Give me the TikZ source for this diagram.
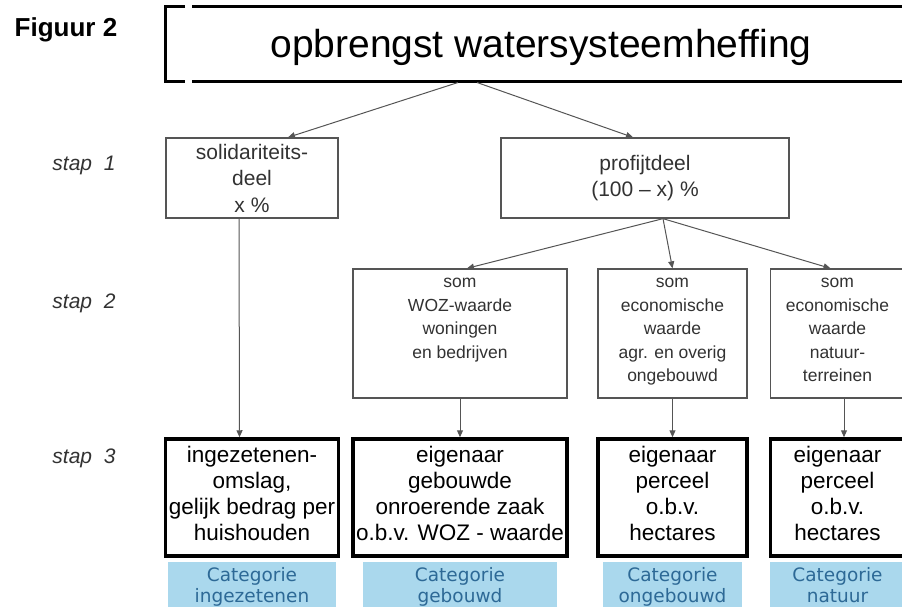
\documentclass[tikz,border=0pt]{standalone}
\usepackage{fontspec}
\setmainfont{Liberation Sans}
\newfontfamily\catfont{DejaVu Sans}
\usetikzlibrary{arrows.meta}

\definecolor{catblue}{RGB}{170,216,237}
\definecolor{cattext}{RGB}{45,105,150}
\definecolor{linegray}{RGB}{85,85,85}
\definecolor{textgray}{RGB}{50,50,50}

\begin{document}
\begin{tikzpicture}[x=1pt,y=-1pt,->,>={Triangle[length=7pt,width=6pt]},
                    line width=1pt]
  \tikzstyle{every node}=[align=center,inner sep=0pt]
  \tikzstyle{partbox}=[draw=linegray,line width=1.3pt,text=textgray,
                       font=\fontsize{21}{26.5}\selectfont,minimum height=80pt]
  \tikzstyle{sumbox}=[draw=linegray,line width=1.3pt,text=textgray,
                      font=\fontsize{17.5}{23.5}\selectfont,minimum height=129pt,
                      execute at end node=\strut]
  \tikzstyle{payer}=[draw=black,line width=3.5pt,
                     font=\fontsize{22.5}{26}\selectfont,minimum height=117pt,
                     execute at end node=\strut]
  \tikzstyle{category}=[fill=catblue,text=cattext,
                        font=\catfont\fontsize{18.5}{20.5}\selectfont,minimum height=52pt,
                        execute at end node=\strut]
  \tikzstyle{stap}=[text=textgray,font=\itshape\fontsize{21}{25}\selectfont]
  \tikzstyle{link}=[every edge/.style={draw=linegray,line width=1pt,->}]

  \useasboundingbox (0,0) rectangle (902,607);
  \clip (0,0) rectangle (902,607);

  \node[font=\bfseries\fontsize{26}{30}\selectfont] (fig) at (66,30) {Figuur 2};
  \node[minimum height=70pt,font=\fontsize{39}{45}\selectfont] (title) at (541,47)
       {opbrengst watersysteemheffing};
  \draw[-,line width=3pt] (185,7) -- (165,7) -- (165,82) -- (185,82)
                          (192,7) -- (910,7) (192,82) -- (910,82);

  \node[stap] (stap1) at (84,165) {stap\ \ 1};
  \node[stap] (stap2) at (84,303) {stap\ \ 2};
  \node[stap] (stap3) at (84,458) {stap\ \ 3};

  % stap 1
  \node[partbox,minimum width=172pt] (sol) at (252,178)
       {solidariteits-\\deel\\x \%};
  \node[partbox,minimum width=288pt] (prof) [right of=sol,node distance=393pt]
       {profijtdeel\\(100 – x) \%};

  % stap 3
  \node[payer,minimum width=173pt] (b1) [below of=sol,node distance=319.5pt]
       {ingezetenen-\\omslag,\\gelijk bedrag per\\huishouden};
  \node[payer,minimum width=214pt] (b2) [right of=b1,node distance=208pt]
       {eigenaar\\gebouwde\\onroerende zaak\\o.b.v. WOZ - waarde};
  \node[payer,minimum width=149pt] (b3) [right of=b2,node distance=212.5pt]
       {eigenaar\\perceel\\o.b.v.\\hectares};
  \node[payer,minimum width=134pt] (b4) [right of=b3,node distance=165pt]
       {eigenaar\\perceel\\o.b.v.\\hectares};

  % stap 2
  \node[sumbox,minimum width=214pt] (woz) [above of=b2,node distance=164pt]
       {som\\WOZ-waarde\\woningen\\en bedrijven\\\mbox{}};
  \node[sumbox,minimum width=149pt] (econ) [above of=b3,node distance=164pt]
       {som\\economische\\waarde\\agr. en overig\\ongebouwd};
  \node[sumbox,minimum width=134pt] (nat) [above of=b4,node distance=164pt]
       {som\\economische\\waarde\\natuur-\\terreinen};

  % categorieen
  \node[category,minimum width=168pt] (c1) [below of=b1,node distance=90.5pt]
       {Categorie\\ingezetenen};
  \node[category,minimum width=194pt] (c2) [below of=b2,node distance=90.5pt]
       {Categorie\\gebouwd};
  \node[category,minimum width=139pt] (c3) [below of=b3,node distance=90.5pt]
       {Categorie\\ongebouwd};
  \node[category,minimum width=135pt] (c4) [below of=b4,node distance=90.5pt]
       {Categorie\\natuur};

  \path[link] ([xshift=-83pt]title.south) edge ([xshift=36pt]sol.north)
              ([xshift=-64pt]title.south) edge ([xshift=-12pt]prof.north)
              ([xshift=18pt]prof.south)   edge ([xshift=7pt]woz.north)
                                          edge (econ.north)
                                          edge ([xshift=-7pt]nat.north)
              ([xshift=-13pt]sol.south)   edge ([xshift=-12.5pt]b1.north)
              (woz.south)                 edge (b2.north)
              (econ.south)                edge (b3.north)
              ([xshift=6.5pt]nat.south)   edge ([xshift=6.5pt]b4.north);
\end{tikzpicture}
\end{document}
